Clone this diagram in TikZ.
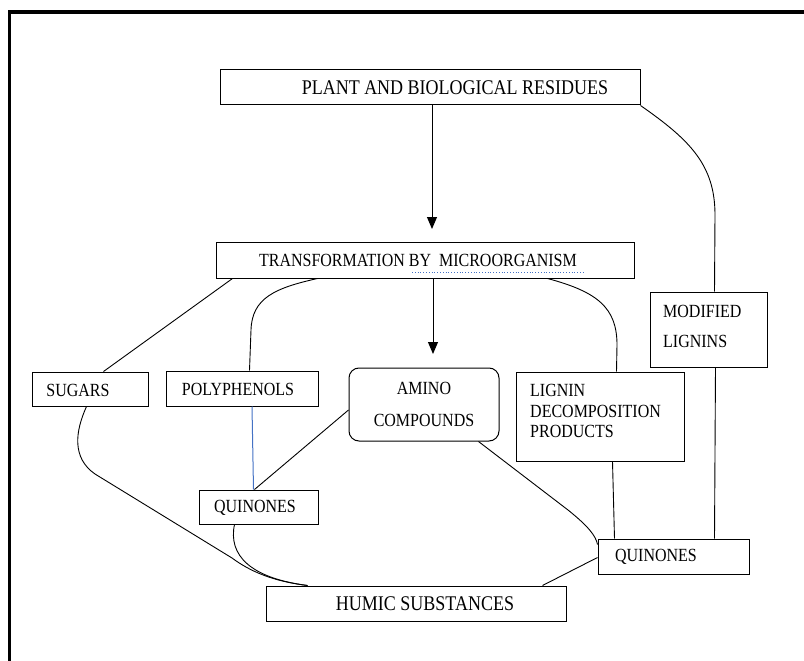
\documentclass[tikz,border=0pt]{standalone}
\usepackage{fontspec}
\setmainfont{Liberation Serif}
\usetikzlibrary{arrows.meta}
\definecolor{wordblue}{RGB}{68,114,196}
\newcommand{\tallt}[1]{\scalebox{1}[1.16]{#1}}
\begin{document}
\begin{tikzpicture}[x=1pt,y=-1pt,
  box/.style={draw, line width=1pt, inner sep=0pt},
  lbl/.style={inner sep=0pt, font=\fontsize{16}{19}\selectfont},
  big/.style={inner sep=0pt, font=\fontsize{18}{21}\selectfont},
  conn/.style={line width=0.9pt},
  arr/.style={line width=1pt, -{Triangle[length=12pt,width=10pt]}}]
\useasboundingbox (0,0) rectangle (804,661);
\draw[line width=3.5pt] (9.5,661) -- (9.5,12) -- (804,12);

% boxes
\node[box, minimum width=420pt, minimum height=35pt] (plant) at (430,87.5) {};
\node[box, minimum width=418pt, minimum height=36pt] (trans) at (425,260) {};
\node[box, minimum width=116pt, minimum height=34pt] (sugars) at (90,389) {};
\node[box, minimum width=152pt, minimum height=35pt] (poly) at (242,388.5) {};
\node[box, rounded corners=10pt, minimum width=150pt, minimum height=73pt] (amino) at (424,404.5) {};
\node[box, minimum width=168pt, minimum height=89pt] (lignin) at (600,416.5) {};
\node[box, minimum width=117pt, minimum height=75pt] (modified) at (708.5,329.5) {};
\node[box, minimum width=119pt, minimum height=34pt] (qleft) at (258.5,507) {};
\node[box, minimum width=151pt, minimum height=35pt] (qright) at (673.5,556.5) {};
\node[box, minimum width=300pt, minimum height=35pt] (humic) at (416,603.5) {};

% texts
\node[big] (tplant) at (455,88) {\tallt{PLANT AND BIOLOGICAL RESIDUES}};
\node[lbl] (ttrans) at (418,260) {\tallt{TRANSFORMATION BY\ \ MICROORGANISM}};
\node[lbl] (tsugars) at (78,390) {\tallt{SUGARS}};
\node[lbl] (tpoly) at (238,389) {\tallt{POLYPHENOLS}};
\node[lbl] (tamino1) at (424,388) {\tallt{AMINO}};
\node[lbl] (tamino2) at (424,420) {\tallt{COMPOUNDS}};
\node[lbl, anchor=west] (tlig1) at (530,390) {\tallt{LIGNIN}};
\node[lbl, anchor=west] (tlig2) at (530,411) {\tallt{DECOMPOSITION}};
\node[lbl, anchor=west] (tlig3) at (530,431) {\tallt{PRODUCTS}};
\node[lbl, anchor=west] (tmod1) at (663,311) {\tallt{MODIFIED}};
\node[lbl, anchor=west] (tmod2) at (663,341) {\tallt{LIGNINS}};
\node[lbl] (tql) at (255,508) {\tallt{QUINONES}};
\node[lbl] (tqr) at (656,557) {\tallt{QUINONES}};
\node[big] (thumic) at (425,604) {\tallt{HUMIC SUBSTANCES}};

\draw[wordblue, dotted, line width=0.8pt] (412,272) -- (585,272);

% arrows
\coordinate (a1) at (432,229);
\coordinate (a2) at (433,354);
\draw[arr] (plant.south -| a1) -- (a1);
\draw[arr] (trans.south -| a2) -- (a2);

% connectors
\draw[conn] (plant.south east) .. controls (690,140) and (715,165) .. (715,215) -- ([xshift=65pt]modified.north west);
\draw[conn] ([xshift=17pt]trans.south west) -- ([xshift=72pt]sugars.north west);
\draw[conn] ([xshift=102pt]trans.south west) .. controls (275,288) and (252,298) .. (251,330) -- ([xshift=84pt]poly.north west);
\draw[conn] ([xshift=332pt]trans.south west) .. controls (598,292) and (617,308) .. (617,345) -- ([xshift=101pt]lignin.north west);
\draw[wordblue, line width=1pt] ([xshift=10pt]poly.south) -- ([xshift=-5pt]qleft.north);
\draw[conn] ([yshift=-5.5pt]amino.west) -- ([xshift=-4pt]qleft.north);
\draw[conn] ([xshift=55pt]sugars.south west) .. controls (75,432) and (72,458) .. (95,474) -- (232,558) .. controls (255,575) and (280,582) .. ([xshift=42pt]humic.north west);
\draw[conn] ([xshift=-24pt]qleft.south) .. controls (228,555) and (250,578) .. ([xshift=42pt]humic.north west);
\draw[conn] ([xshift=-21pt]amino.south east) -- (568,510) .. controls (588,526) and (596,536) .. ([yshift=12pt]qright.west);
\draw[conn] ([xshift=97pt]lignin.south west) -- ([xshift=17pt]qright.north west);
\draw[conn] ([xshift=66pt]modified.south west) -- ([xshift=117pt]qright.north west);
\draw[conn] ([yshift=-1pt]qright.west) -- ([xshift=277pt]humic.north west);
\end{tikzpicture}
\end{document}
